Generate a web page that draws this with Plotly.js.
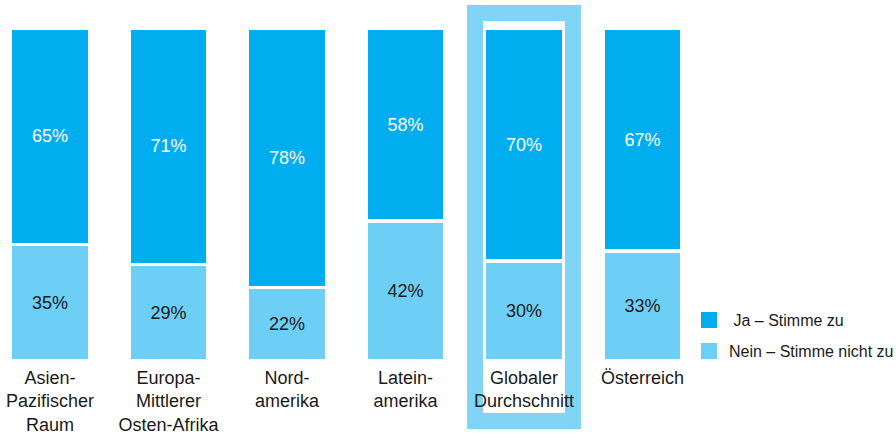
<!DOCTYPE html>
<html>
<head>
<meta charset="utf-8">
<script src="https://cdn.plot.ly/plotly-3.0.1.min.js"></script>
<style>html,body{margin:0;padding:0;background:#fff;}#chart{width:896px;height:434px;}</style>
</head>
<body>
<div id="chart"></div>
<script>
const categories = ["Asien-<br>Pazifischer<br>Raum", "Europa-<br>Mittlerer<br>Osten-Afrika", "Nord-<br>amerika", "Latein-<br>amerika", "Globaler<br>Durchschnitt", "Österreich"];
const jaValues = [65, 71, 78, 58, 70, 67];
const neinValues = [35, 29, 22, 42, 30, 33];
const seriesNames = ["Ja – Stimme zu", "Nein – Stimme nicht zu"];
const jaColor = "#00AEEF";
const neinColor = "#6DCFF6";
const highlightIndex = 4;

const FONT = "Liberation Sans, Arial, sans-serif";

const traces = [
  {
    type: "bar", name: seriesNames[1], x: categories, y: neinValues,
    text: neinValues.map(v => v + "%"), textposition: "inside", insidetextanchor: "middle",
    textfont: {family: FONT, size: 18, color: "#1a1a1a"},
    marker: {color: neinColor, line: {color: "#ffffff", width: 3.5}},
    width: 0.67, hoverinfo: "skip", showlegend: false
  },
  {
    type: "bar", name: seriesNames[0], x: categories, y: jaValues,
    text: jaValues.map(v => v + "%"), textposition: "inside", insidetextanchor: "middle",
    textfont: {family: FONT, size: 18, color: "#ffffff"},
    marker: {color: jaColor, line: {color: "#ffffff", width: 3.5}},
    width: 0.67, hoverinfo: "skip", showlegend: false
  }
];

const legendItems = [
  {name: " " + seriesNames[0], color: jaColor, y0: 0.0991, y1: 0.1471, ty: 0.1231},
  {name: seriesNames[1], color: neinColor, y0: 0.006, y1: 0.0541, ty: 0.030}
];

const shapes = [
  {type: "rect", xref: "x", yref: "paper", x0: highlightIndex - 0.413, x1: highlightIndex + 0.413, y0: -0.180, y1: 1.045,
   line: {color: "#80D4F6", width: 16}, fillcolor: "rgba(0,0,0,0)", layer: "below"}
];
const annotations = [];
legendItems.forEach(it => {
  shapes.push({type: "rect", xref: "paper", yref: "paper", x0: 1.0014, x1: 1.0243, y0: it.y0, y1: it.y1,
    line: {width: 0}, fillcolor: it.color});
  annotations.push({xref: "paper", yref: "paper", x: 1.0385, y: it.ty, xanchor: "left", yanchor: "middle",
    text: it.name, showarrow: false, font: {family: FONT, size: 16, color: "#1a1a1a"}});
});

const layout = {
  width: 896, height: 434,
  margin: {l: 0, r: 196, t: 28, b: 73, pad: 0},
  paper_bgcolor: "#ffffff", plot_bgcolor: "#ffffff",
  barmode: "stack",
  showlegend: false,
  font: {family: FONT, size: 18, color: "#1a1a1a"},
  xaxis: {type: "category", range: [-0.4219, 5.485], showgrid: false, zeroline: false, showline: false,
          ticks: "", ticklabelstandoff: 4, tickfont: {family: FONT, size: 18, color: "#1a1a1a"}, fixedrange: true},
  yaxis: {range: [0, 100], visible: false, fixedrange: true},
  shapes: shapes,
  annotations: annotations
};

Plotly.newPlot("chart", traces, layout, {displayModeBar: false, staticPlot: true});
</script>
</body>
</html>
